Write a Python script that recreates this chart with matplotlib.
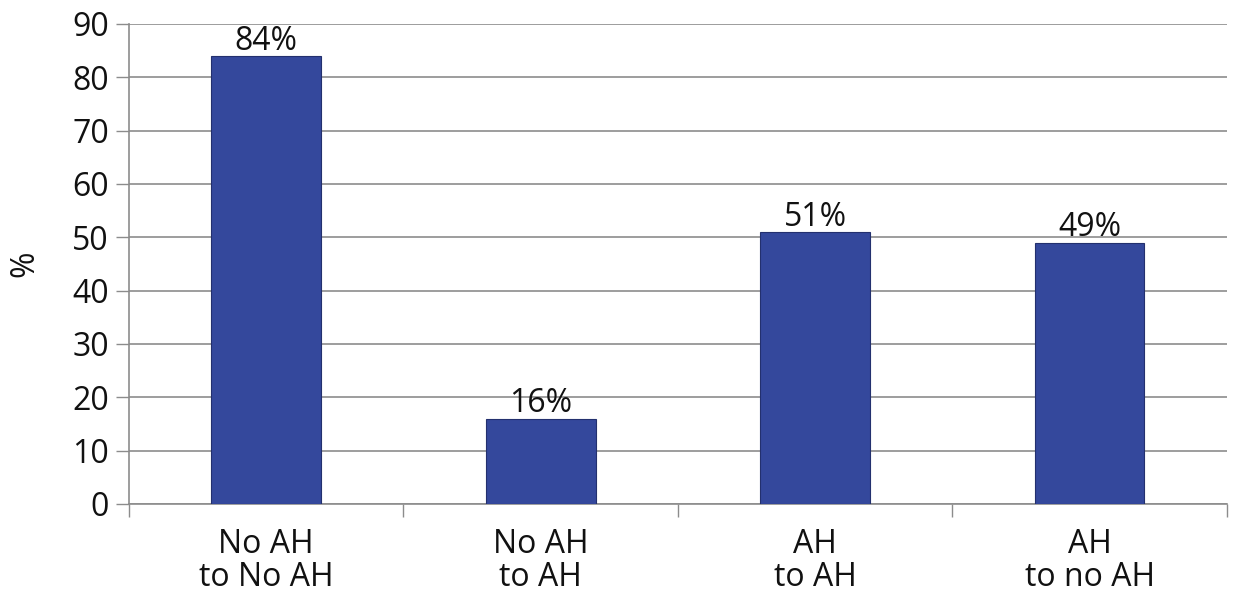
import matplotlib
matplotlib.use("Agg")
import matplotlib.pyplot as plt
import numpy as np

categories = ["No AH\nto No AH", "No AH\nto AH", "AH\nto AH", "AH\nto no AH"]
values = [84, 16, 51, 49]
value_labels = ["84%", "16%", "51%", "49%"]
yticks = [0, 10, 20, 30, 40, 50, 60, 70, 80, 90]

plt.rcParams["font.family"] = ["Open Sans", "DejaVu Sans"]

fig = plt.figure(figsize=(12.33, 6.0), dpi=100)
ax = fig.add_axes([0.1046, 0.16, 0.8904, 0.80])

bar_color = "#34489c"
grid_color = "#8c8c8c"
text_color = "#111111"
fs = 23

x = np.arange(len(categories))
ax.bar(x, values, width=0.4, color=bar_color, edgecolor="#23306e",
       linewidth=0.8, zorder=3)

for xi, v, lab in zip(x, values, value_labels):
    ax.text(xi, v - 0.3, lab, ha="center", va="bottom", fontsize=fs,
            color=text_color, zorder=4)

ax.set_xlim(-0.5, len(categories) - 0.5)
ax.set_ylim(0, 90)
ax.set_yticks(yticks)
ax.tick_params(axis="y", labelsize=fs, length=9.5, width=1, color=grid_color,
               pad=5, labelcolor=text_color)
ax.yaxis.grid(True, color=grid_color, linewidth=1.2, zorder=0)

# category boundaries carry the tick marks, centers carry the labels
ax.set_xticks(np.arange(-0.5, len(categories), 1.0))
ax.set_xticklabels([])
ax.tick_params(axis="x", which="major", length=9, width=1, color=grid_color)
ax.set_xticks(x, minor=True)
ax.set_xticklabels(categories, minor=True, linespacing=1.0)
ax.tick_params(axis="x", which="minor", length=0, labelsize=fs, pad=17,
               labelcolor=text_color)

for side in ("top", "right"):
    ax.spines[side].set_visible(False)
ax.spines["left"].set_color(grid_color)
ax.spines["bottom"].set_color(grid_color)
ax.spines["left"].set_linewidth(1.2)
ax.spines["bottom"].set_linewidth(1.2)

ax.set_ylabel("%", fontsize=fs, color=text_color, labelpad=22)

fig.savefig("out.png", dpi=100, facecolor="white")
